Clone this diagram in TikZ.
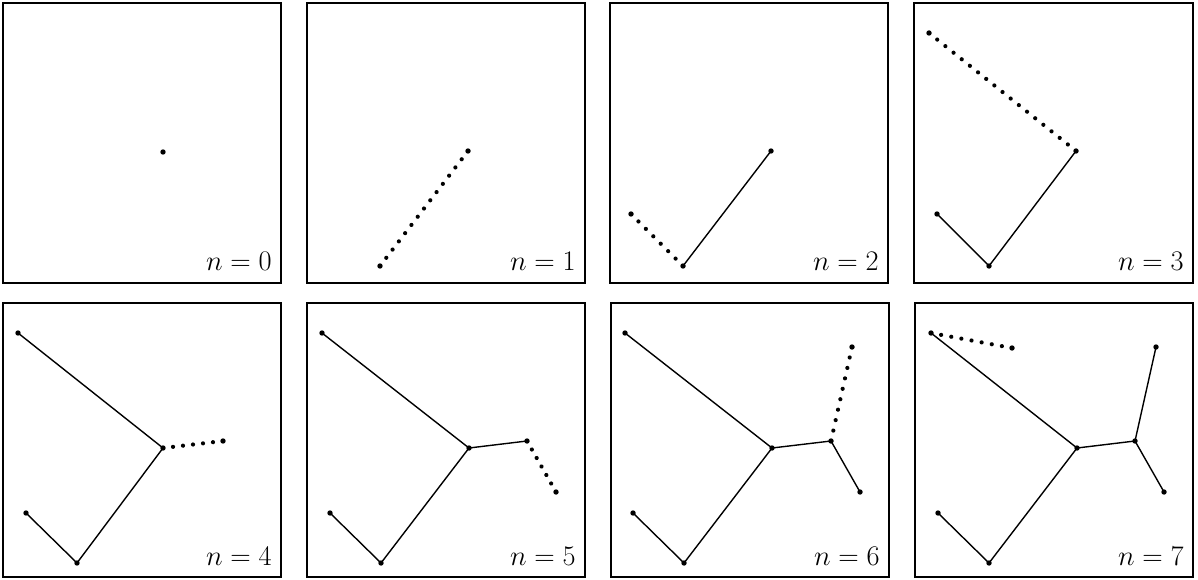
\documentclass[tikz,border=0pt]{standalone}
\usetikzlibrary{decorations.markings}
\begin{document}
\begin{tikzpicture}[x=1pt,y=-1pt,
  panel/.style={draw, line width=1.9pt},
  vtx/.style={circle, fill, inner sep=0pt, minimum size=5.4pt},
  edge/.style={line width=1.4pt, shorten <=-1pt, shorten >=-1pt},
  dotline/.style={decorate, decoration={markings,
     mark=between positions 0 and 1 step #1 with {\fill (0,0) circle (2.1pt);}}},
  lbl/.style={anchor=base east, inner sep=0pt, font=\fontsize{24.88}{30}\selectfont, scale=1.14}]
\useasboundingbox (0,0) rectangle (1198,580);
% ---------- row 1 ----------
\begin{scope}[shift={(3,3)}]
  \draw[panel] (0,0) rectangle (278,280);
  \node[vtx] (a1) at (160,149) {};
  \node[lbl] (l1) at (269,267) {$n=0$};
\end{scope}
\begin{scope}[shift={(307,3)}]
  \draw[panel] (0,0) rectangle (278,280);
  \node[vtx] (a2) at (161,148) {};
  \node[vtx] (b2) at (73,263) {};
  \node[lbl] (l2) at (269,267) {$n=1$};
  \path[dotline=0.07141] (b2.center) -- (a2.center);
\end{scope}
\begin{scope}[shift={(610,3)}]
  \draw[panel] (0,0) rectangle (278,280);
  \node[vtx] (a3) at (161,148) {};
  \node[vtx] (b3) at (73,263) {};
  \node[vtx] (c3) at (21,211) {};
  \node[lbl] (l3) at (269,267) {$n=2$};
  \draw[edge] (a3) -- (b3);
  \path[dotline=0.14284] (b3.center) -- (c3.center);
\end{scope}
\begin{scope}[shift={(914,3)}]
  \draw[panel] (0,0) rectangle (279,280);
  \node[vtx] (a4) at (162,148) {};
  \node[vtx] (b4) at (75,263) {};
  \node[vtx] (c4) at (23,211) {};
  \node[vtx] (d4) at (15,30) {};
  \node[lbl] (l4) at (270,267) {$n=3$};
  \draw[edge] (a4) -- (b4);
  \draw[edge] (b4) -- (c4);
  \path[dotline=0.05554] (a4.center) -- (d4.center);
\end{scope}
% ---------- row 2 ----------
\begin{scope}[shift={(3,303)}]
  \draw[panel] (0,0) rectangle (278,274);
  \node[vtx] (d5) at (15,30) {};
  \node[vtx] (a5) at (160,145) {};
  \node[vtx] (b5) at (74,260) {};
  \node[vtx] (c5) at (23,210) {};
  \node[vtx] (e5) at (220,138) {};
  \node[lbl] (l5) at (269,262) {$n=4$};
  \draw[edge] (d5) -- (a5);
  \draw[edge] (a5) -- (b5);
  \draw[edge] (b5) -- (c5);
  \path[dotline=0.16664] (a5.center) -- (e5.center);
\end{scope}
\begin{scope}[shift={(307,303)}]
  \draw[panel] (0,0) rectangle (278,274);
  \node[vtx] (d6) at (15,30) {};
  \node[vtx] (a6) at (162,145) {};
  \node[vtx] (b6) at (74,260) {};
  \node[vtx] (c6) at (23,210) {};
  \node[vtx] (e6) at (220,138) {};
  \node[vtx] (f6) at (249,189) {};
  \node[lbl] (l6) at (269,262) {$n=5$};
  \draw[edge] (d6) -- (a6);
  \draw[edge] (a6) -- (b6);
  \draw[edge] (b6) -- (c6);
  \draw[edge] (a6) -- (e6);
  \path[dotline=0.16664] (e6.center) -- (f6.center);
\end{scope}
\begin{scope}[shift={(611,303)}]
  \draw[panel] (0,0) rectangle (278,274);
  \node[vtx] (d7) at (14,30) {};
  \node[vtx] (a7) at (161,145) {};
  \node[vtx] (b7) at (73,260) {};
  \node[vtx] (c7) at (22,210) {};
  \node[vtx] (e7) at (220,138) {};
  \node[vtx] (f7) at (249,189) {};
  \node[vtx] (g7) at (241,44) {};
  \node[lbl] (l7) at (269,262) {$n=6$};
  \draw[edge] (d7) -- (a7);
  \draw[edge] (a7) -- (b7);
  \draw[edge] (b7) -- (c7);
  \draw[edge] (a7) -- (e7);
  \draw[edge] (e7) -- (f7);
  \path[dotline=0.11109] (e7.center) -- (g7.center);
\end{scope}
\begin{scope}[shift={(915,303)}]
  \draw[panel] (0,0) rectangle (278,274);
  \node[vtx] (d8) at (16,30) {};
  \node[vtx] (a8) at (162,145) {};
  \node[vtx] (b8) at (74,260) {};
  \node[vtx] (c8) at (23,210) {};
  \node[vtx] (e8) at (220,138) {};
  \node[vtx] (f8) at (249,189) {};
  \node[vtx] (g8) at (241,44) {};
  \node[vtx] (h8) at (97,45) {};
  \node[lbl] (l8) at (269,262) {$n=7$};
  \draw[edge] (d8) -- (a8);
  \draw[edge] (a8) -- (b8);
  \draw[edge] (b8) -- (c8);
  \draw[edge] (a8) -- (e8);
  \draw[edge] (e8) -- (f8);
  \draw[edge] (e8) -- (g8);
  \path[dotline=0.12498] (d8.center) -- (h8.center);
\end{scope}
\end{tikzpicture}
\end{document}
